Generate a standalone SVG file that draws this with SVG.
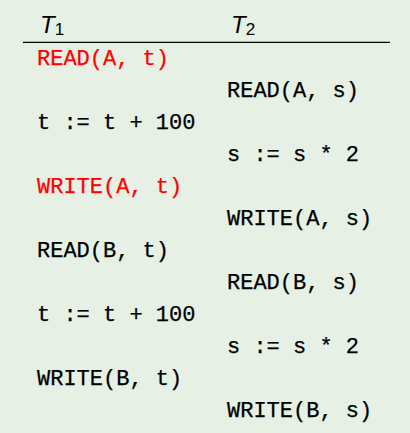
<svg xmlns="http://www.w3.org/2000/svg" width="410" height="433" viewBox="0 0 410 433">
<style>
.bg{fill:#e6f0e5}
.code{font-family:"Liberation Mono","DejaVu Sans Mono",monospace;font-size:22px;fill:#000;stroke:#000;stroke-width:0.25}
.red{fill:#ff0000;stroke:#ff0000}
.hdr{font-family:"Liberation Sans",Arial,sans-serif;font-style:italic;font-size:24px;fill:#000}
.sub{font-family:"Liberation Sans",Arial,sans-serif;font-size:17px;fill:#000}
.rule{stroke:#000;stroke-width:1.2}
</style>
<rect class="bg" x="0" y="0" width="410" height="433"/>
<g id="header">
<text class="hdr" x="40" y="33">T<tspan class="sub" font-style="normal" dy="2">1</tspan></text>
<text class="hdr" x="231" y="33">T<tspan class="sub" font-style="normal" dy="2">2</tspan></text>
<line class="rule" x1="23" y1="42.3" x2="390" y2="42.3"/>
</g>
<g id="T1">
<text class="code red" x="37" y="65">READ(A, t)</text>
<text class="code" x="37" y="129">t := t + 100</text>
<text class="code red" x="37" y="193">WRITE(A, t)</text>
<text class="code" x="37" y="257">READ(B, t)</text>
<text class="code" x="37" y="321">t := t + 100</text>
<text class="code" x="37" y="385">WRITE(B, t)</text>
</g>
<g id="T2">
<text class="code" x="227" y="97">READ(A, s)</text>
<text class="code" x="227" y="161">s := s * 2</text>
<text class="code" x="227" y="225">WRITE(A, s)</text>
<text class="code" x="227" y="289">READ(B, s)</text>
<text class="code" x="227" y="353">s := s * 2</text>
<text class="code" x="227" y="417">WRITE(B, s)</text>
</g>
</svg>
